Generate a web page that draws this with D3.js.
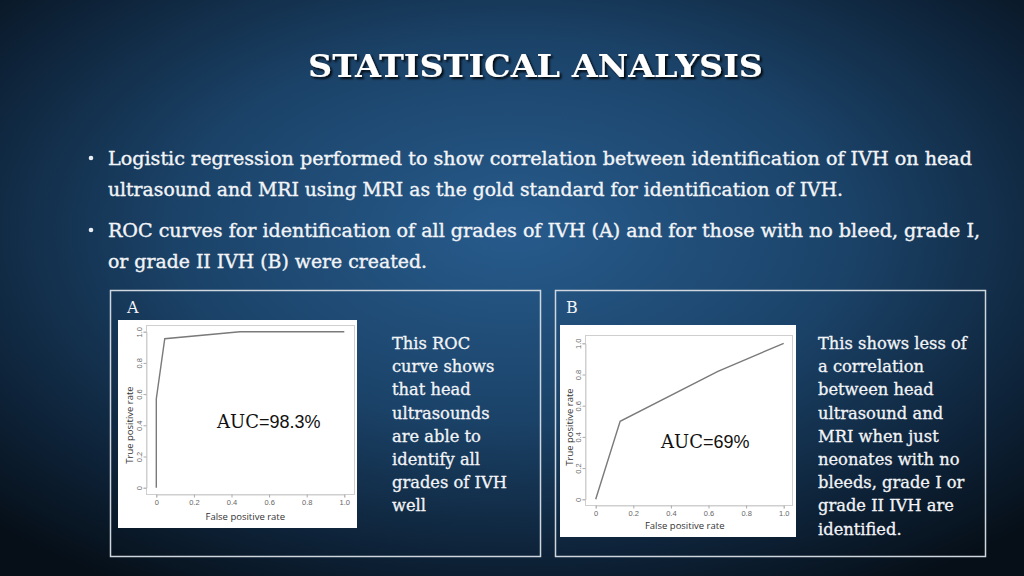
<!DOCTYPE html>
<html>
<head>
<meta charset="utf-8">
<script src="https://cdn.jsdelivr.net/npm/d3@7"></script>
<style>
  html, body { margin: 0; padding: 0; background: #0b1b2d; }
  svg { display: block; }
</style>
</head>
<body>
<svg id="chart" width="1024" height="576"></svg>
<script>
// ---------------- DATA ----------------
const title = "STATISTICAL ANALYSIS";
const bulletLines = [
  "Logistic regression performed to show correlation between identification of IVH on head",
  "ultrasound and MRI using MRI as the gold standard for identification of IVH.",
  "ROC curves for identification of all grades of IVH (A) and for those with no bleed, grade I,",
  "or grade II IVH (B) were created."
];
const bulletStarts = [true, false, true, false];

const rocA_fpr = [0, 0, 0.045, 0.445, 1.0];
const rocA_tpr = [0, 0.57, 0.955, 1.0, 1.0];
const rocB_fpr = [0, 0.13, 0.65, 1.0];
const rocB_tpr = [0, 0.50, 0.82, 1.0];

const tickValues = [0, 0.2, 0.4, 0.6, 0.8, 1.0];
const tickLabels = ["0", "0.2", "0.4", "0.6", "0.8", "1.0"];

const aucA = "98.3%";
const aucB = "69%";

const noteA = ["This ROC", "curve shows", "that head", "ultrasounds", "are able to",
               "identify all", "grades of IVH", "well"];
const noteB = ["This shows less of", "a correlation", "between head", "ultrasound and",
               "MRI when just", "neonates with no", "bleeds, grade I or",
               "grade II IVH are", "identified."];

// ---------------- DRAW ----------------
const svg = d3.select("#chart");
const defs = svg.append("defs");

const grad = defs.append("radialGradient").attr("id", "bg")
  .attr("cx", "50%").attr("cy", "40%").attr("r", "72%");
grad.append("stop").attr("offset", "0%").attr("stop-color", "#275b8c");
grad.append("stop").attr("offset", "45%").attr("stop-color", "#1b4369");
grad.append("stop").attr("offset", "80%").attr("stop-color", "#0d2136");
grad.append("stop").attr("offset", "100%").attr("stop-color", "#060f18");

const shadow = defs.append("filter").attr("id", "shadow")
  .attr("x", "-10%").attr("y", "-30%").attr("width", "120%").attr("height", "160%");
shadow.append("feDropShadow").attr("dx", 2).attr("dy", 2)
  .attr("stdDeviation", 1.2).attr("flood-color", "#000").attr("flood-opacity", 0.9);

svg.append("rect").attr("width", 1024).attr("height", 576).attr("fill", "url(#bg)");

// Title
svg.append("text")
  .attr("x", 308).attr("y", 77)
  .attr("textLength", 455).attr("lengthAdjust", "spacingAndGlyphs")
  .attr("font-family", "'DejaVu Serif Condensed', 'DejaVu Serif', serif")
  .attr("font-weight", "bold").attr("font-size", 32)
  .attr("fill", "#ffffff").attr("filter", "url(#shadow)")
  .text(title);

// Bullets
const bulletWidths = [864, 735, 872, 319];
const bulletBaselines = [165, 196, 237, 268];
bulletLines.forEach((t, i) => {
  if (bulletStarts[i]) {
    svg.append("circle").attr("cx", 91).attr("cy", bulletBaselines[i] - 7)
      .attr("r", 2.3).attr("fill", "#e8eef4");
  }
  svg.append("text")
    .attr("x", 108).attr("y", bulletBaselines[i])
    .attr("textLength", bulletWidths[i]).attr("lengthAdjust", "spacingAndGlyphs")
    .attr("font-family", "'DejaVu Serif', serif").attr("font-size", 18)
    .attr("fill", "#f2f4f7").attr("stroke", "#f2f4f7").attr("stroke-width", 0.35)
    .text(t);
});

// Panel borders
svg.append("rect").attr("x", 110.5).attr("y", 290.5).attr("width", 430).attr("height", 266)
  .attr("fill", "none").attr("stroke", "#cfd6dd").attr("stroke-width", 1.5);
svg.append("rect").attr("x", 555.5).attr("y", 290.5).attr("width", 430).attr("height", 266)
  .attr("fill", "none").attr("stroke", "#cfd6dd").attr("stroke-width", 1.5);

svg.append("text").attr("x", 127).attr("y", 313)
  .attr("font-family", "'DejaVu Serif', serif").attr("font-size", 16).attr("fill", "#f2f4f7").text("A");
svg.append("text").attr("x", 566).attr("y", 313)
  .attr("font-family", "'DejaVu Serif', serif").attr("font-size", 16).attr("fill", "#f2f4f7").text("B");

function rocChart(cfg) {
  const g = svg.append("g");
  g.append("rect").attr("x", cfg.box[0]).attr("y", cfg.box[1])
    .attr("width", cfg.box[2]).attr("height", cfg.box[3]).attr("fill", "#ffffff");

  const x = d3.scaleLinear().domain([0, 1]).range(cfg.xr);
  const y = d3.scaleLinear().domain([0, 1]).range(cfg.yr);

  // frame
  g.append("rect").attr("x", cfg.frame[0] + 0.5).attr("y", cfg.frame[1] + 0.5)
    .attr("width", cfg.frame[2]).attr("height", cfg.frame[3])
    .attr("fill", "none").attr("stroke", "#cfcfcf").attr("stroke-width", 1);

  const fmt = d => tickLabels[tickValues.indexOf(d)];
  const xa = g.append("g").attr("transform", `translate(0,${cfg.frame[1] + cfg.frame[3] + 0.5})`)
    .call(d3.axisBottom(x).tickValues(tickValues).tickFormat(fmt).tickSize(3).tickPadding(2));
  xa.select(".domain").attr("stroke", "#cfcfcf");
  xa.selectAll(".tick line").attr("stroke", "#aaaaaa");
  xa.selectAll(".tick text").attr("font-family", "'Liberation Sans', Arial, sans-serif")
    .attr("font-size", 7.5).attr("fill", "#666");

  const ya = g.append("g").attr("transform", `translate(${cfg.frame[0] + 0.5},0)`)
    .call(d3.axisLeft(y).tickValues(tickValues).tickFormat(fmt).tickSize(3).tickPadding(2));
  ya.select(".domain").attr("stroke", "#cfcfcf");
  ya.selectAll(".tick line").attr("stroke", "#aaaaaa");
  ya.selectAll(".tick text").attr("font-family", "'Liberation Sans', Arial, sans-serif")
    .attr("font-size", 7.5).attr("fill", "#666")
    .attr("text-anchor", "middle").attr("dy", null)
    .attr("transform", "rotate(-90)")
    .attr("x", 0).attr("y", -4.5);

  const pts = cfg.fpr.map((f, i) => [f, cfg.tpr[i]]);
  g.append("path").datum(pts)
    .attr("d", d3.line().x(d => x(d[0])).y(d => y(d[1])))
    .attr("fill", "none").attr("stroke", "#7a7a7a").attr("stroke-width", 1.4);

  g.append("text").attr("x", (cfg.xr[0] + cfg.xr[1]) / 2 - 5).attr("y", cfg.xlabY)
    .attr("text-anchor", "middle").attr("font-family", "'Open Sans', 'Liberation Sans', sans-serif")
    .attr("font-size", 9.5).attr("fill", "#333").text("False positive rate");
  g.append("text")
    .attr("transform", `translate(${cfg.ylabX},${cfg.ylabCY}) rotate(-90)`)
    .attr("text-anchor", "middle").attr("font-family", "'Open Sans', 'Liberation Sans', sans-serif")
    .attr("font-size", 9.5).attr("fill", "#333").text("True positive rate");

  const t = g.append("text").attr("x", cfg.auc[0]).attr("y", cfg.auc[1])
    .attr("font-size", 18).attr("fill", "#111");
  t.append("tspan").attr("font-family", "'DejaVu Serif', serif").text("AUC");
  t.append("tspan").attr("font-family", "'Liberation Sans', Arial, sans-serif").text("=" + cfg.aucText);
}

rocChart({
  box: [118, 320, 239, 208],
  frame: [146, 325, 208, 169],
  xr: [156.3, 344.3], yr: [487.7, 331.7],
  fpr: rocA_fpr, tpr: rocA_tpr,
  xlabY: 520, ylabX: 133, ylabCY: 425,
  auc: [217, 428], aucText: aucA
});
rocChart({
  box: [560, 325, 236, 212],
  frame: [585, 335, 207, 170],
  xr: [595.7, 783.7], yr: [499.3, 343.3],
  fpr: rocB_fpr, tpr: rocB_tpr,
  xlabY: 529, ylabX: 573, ylabCY: 427,
  auc: [661, 448], aucText: aucB
});

// Side notes
function notes(lines, x0) {
  lines.forEach((t, i) => {
    svg.append("text").attr("x", x0).attr("y", 349 + i * 23.2)
      .attr("font-family", "'DejaVu Serif', serif").attr("font-size", 16.3)
      .attr("fill", "#f2f4f7").attr("stroke", "#f2f4f7").attr("stroke-width", 0.3)
      .text(t);
  });
}
notes(noteA, 392);
notes(noteB, 818);
</script>
</body>
</html>
